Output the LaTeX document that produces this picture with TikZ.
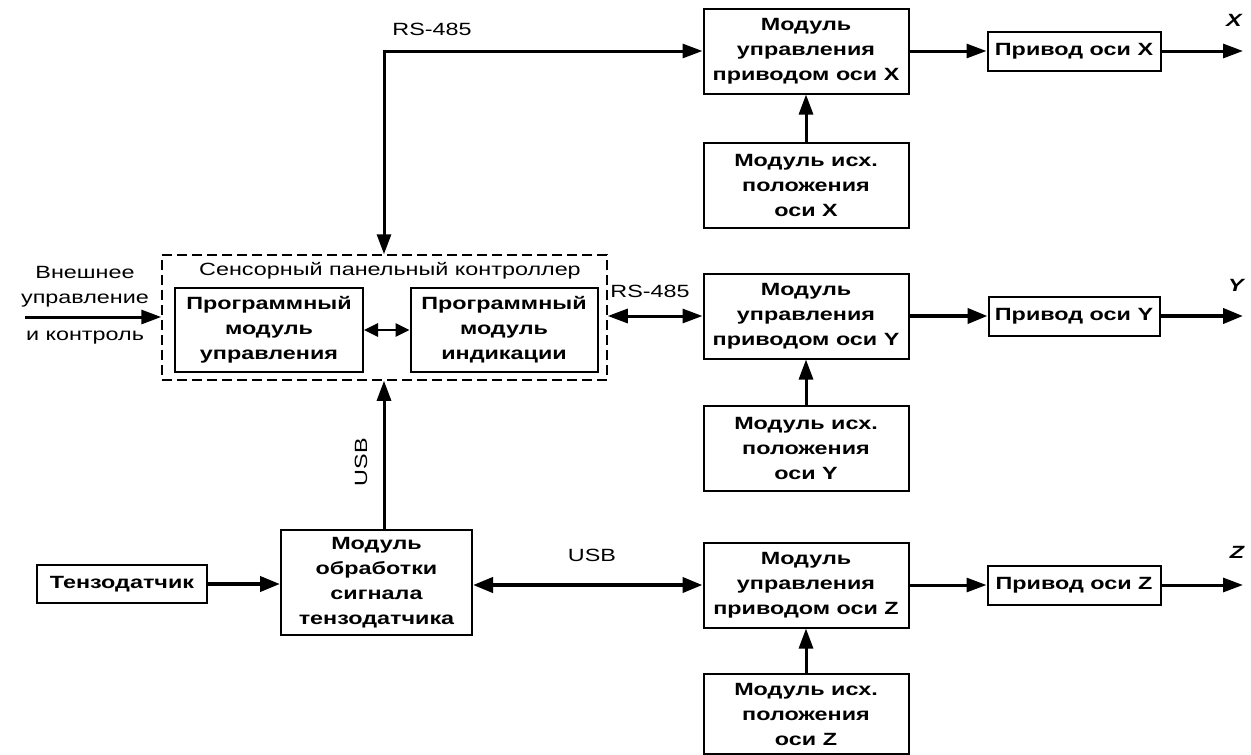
\documentclass[tikz,border=0pt]{standalone}
\usepackage{fontspec}
\setmainfont[FakeStretch=1.32]{Liberation Sans}
\usetikzlibrary{arrows.meta,calc}
\begin{document}
\begin{tikzpicture}[x=1pt,y=-1pt,
  every node/.style={font=\fontsize{17.7}{25}\selectfont},
  blk/.style={draw,line width=2pt,inner sep=0pt,align=center,font=\fontsize{17.7}{25}\selectfont\bfseries},
  lbl/.style={inner sep=0pt,align=center},
  axl/.style={inner sep=0pt,font=\fontsize{17.7}{25}\selectfont\bfseries\itshape},
  arr/.style={line width=3pt,-{Triangle[length=20pt,width=14pt]}},
  darr/.style={line width=3pt,{Triangle[length=20pt,width=14pt]}-{Triangle[length=20pt,width=14pt]}},
  thk/.style={line width=4pt,-{Triangle[length=20pt,width=15pt]}},
  dthk/.style={line width=4pt,{Triangle[length=20pt,width=15pt]}-{Triangle[length=20pt,width=15pt]}},
  sarr/.style={line width=2.6pt,{Triangle[length=14pt,width=13pt]}-{Triangle[length=14pt,width=13pt]}}
]
\useasboundingbox (0,0) rectangle (1251,755);
\fill[white] (0,0) rectangle (1251,755);

% X row
\node[blk,minimum width=205pt,minimum height=85pt] (cX) at (806,51) {Модуль\\управления\\приводом оси X};
\node[blk,minimum width=205pt,minimum height=85pt] (hX) at (806,185) {Модуль исх.\\положения\\оси X};
\node[blk,minimum width=173pt,minimum height=39pt] (pX) at (1074,51) {Привод оси X};
\coordinate (oX) at (1243,51);
\node[axl] (lX) at (1234,20) {X};

% Y row
\node[blk,minimum width=205pt,minimum height=85pt] (cY) at (806,316) {Модуль\\управления\\приводом оси Y};
\node[blk,minimum width=205pt,minimum height=85pt] (hY) at (806,448) {Модуль исх.\\положения\\оси Y};
\node[blk,minimum width=171pt,minimum height=39pt] (pY) at (1074,316) {Привод оси Y};
\coordinate (oY) at (1243,316);
\node[axl] (lY) at (1236,285) {Y};

% Z row
\node[blk,minimum width=205pt,minimum height=85pt] (cZ) at (806,585) {Модуль\\управления\\приводом оси Z};
\node[blk,minimum width=205pt,minimum height=80pt] (hZ) at (806,714) {Модуль исх.\\положения\\оси Z};
\node[blk,minimum width=173pt,minimum height=39pt] (pZ) at (1074,585) {Привод оси Z};
\coordinate (oZ) at (1243,585);
\node[axl] (lZ) at (1237,552) {Z};

% controller
\node[draw,dashed,dash pattern=on 10pt off 5pt,line width=1.5pt,minimum width=445pt,minimum height=125pt,inner sep=0pt] (ctrl) at (384.5,317.5) {};
\node[lbl] (ctitle) at (390,271) {Сенсорный панельный контроллер};
\node[blk,minimum width=188pt,minimum height=84pt] (pu) at (269,330) {Программный\\модуль\\управления};
\node[blk,minimum width=187pt,minimum height=84pt] (pi) at (504,330) {Программный\\модуль\\индикации};

% external
\node[lbl] (ext1) at (85,287) {Внешнее\\управление};
\node[lbl] (ext2) at (85,338) {и контроль};
\coordinate (ein) at (25,317);

% bottom left
\node[blk,minimum width=170pt,minimum height=38pt] (tz) at (122,584) {Тензодатчик};
\node[blk,minimum width=191pt,minimum height=105pt] (obr) at (376.5,582.5) {Модуль\\обработки\\сигнала\\тензодатчика};

% labels
\node[lbl] (rs1) at (432,29) {RS-485};
\node[lbl] (rs2) at (650,291) {RS-485};
\node[lbl] (usb1) at (592,555) {USB};
\node[lbl,rotate=90] (usb2) at (361,462) {USB};

% connectors
\coordinate (bus) at (384,51);
\draw[darr] (cX.west) -- (bus) -- (bus |- ctrl.north);
\draw[arr] (bus |- obr.north) -- (bus |- ctrl.south);
\draw[darr] (cY.west -| ctrl.east) -- (cY.west);
\draw[sarr] (pu.east) -- (pi.west);
\draw[arr] (ein) -- (ein -| ctrl.west);

\draw[arr] (cX.east) -- (pX.west);
\draw[arr] (pX.east) -- (oX);
\draw[arr] (hX.north) -- (cX.south);

\draw[thk] (cY.east) -- (pY.west);
\draw[thk] (pY.east) -- (oY);
\draw[arr] (hY.north) -- (cY.south);

\draw[arr] (cZ.east) -- (pZ.west);
\draw[arr] (pZ.east) -- (oZ);
\draw[arr] (hZ.north) -- (cZ.south);

\draw[thk] (tz.east) -- (tz.east -| obr.west);
\draw[dthk] (obr.east |- cZ.west) -- (cZ.west);
\end{tikzpicture}
\end{document}
